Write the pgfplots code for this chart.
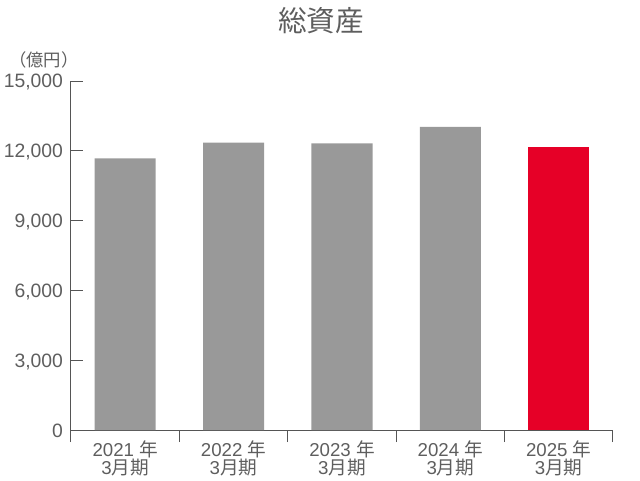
\documentclass[border=0pt]{standalone}
\usepackage{fontspec}
\setmainfont{Liberation Sans}
\newfontfamily\cjk{Noto Sans CJK JP}
\usepackage{pgfplots}
\pgfplotsset{compat=1.18}
\definecolor{txt}{HTML}{5E5E5E}
\definecolor{bargray}{HTML}{999999}
\definecolor{barred}{HTML}{E60027}
\definecolor{axisc}{HTML}{555555}
\newcommand{\cat}[1]{#1 {\cjk 年}\\3{\cjk 月期}}
\begin{document}
\begin{tikzpicture}[x=0.75pt,y=0.75pt]
\useasboundingbox (0,0) rectangle (640,480);
\node[font=\cjk\fontsize{21.5pt}{24pt}\selectfont, text=txt] at (321,459) {総資産};
\node[font=\cjk\fontsize{13pt}{15pt}\selectfont, text=txt] at (44,420) {（億円）};
\begin{axis}[
  at={(53.25pt,37.5pt)}, anchor=south west,
  scale only axis, width=406.5pt, height=261.75pt,
  xmin=-0.5, xmax=4.5, ymin=0, ymax=15000,
  axis lines=left, axis line style={-, draw=axisc, line width=0.75pt},
  tick align=inside, major tick length=9pt,
  tick style={draw=axisc, line width=0.75pt},
  xtick={-0.5,0.5,1.5,2.5,3.5,4.5},
  x tick label as interval,
  xticklabels={{\cat{2021}},{\cat{2022}},{\cat{2023}},{\cat{2024}},{\cat{2025}}},
  xticklabel style={align=center, font=\fontsize{14pt}{12.4pt}\selectfont, text=txt, yshift=4.4pt},
  ytick={0,3000,6000,9000,12000,15000},
  yticklabel style={font=\fontsize{14.5pt}{16pt}\selectfont, text=txt, xshift=-2.5pt, yshift=-1pt},
  /pgf/number format/assume math mode=true,
  /pgf/number format/.cd, 1000 sep={,}, /pgfplots/.cd,
  scaled y ticks=false,
  ybar, bar width=0.563, bar shift=0pt,
  clip=false,
]
\addplot[fill=bargray, draw=none] coordinates {(0,11670) (1,12350) (2,12320) (3,13030)};
\addplot[fill=barred, draw=none] coordinates {(4,12180)};
\end{axis}
\end{tikzpicture}
\end{document}
